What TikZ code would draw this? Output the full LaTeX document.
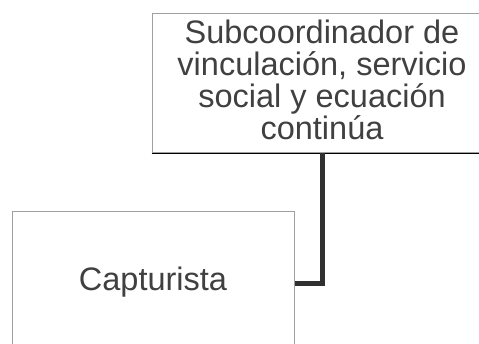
\documentclass[tikz,border=0pt]{standalone}
\usepackage{fontspec}
\setmainfont{Liberation Sans}
\definecolor{txt}{HTML}{404040}
\definecolor{edge}{HTML}{A0A0A0}
\definecolor{shade}{HTML}{808080}
\definecolor{conncol}{HTML}{303030}
\begin{document}
\begin{tikzpicture}[x=1pt,y=-1pt,
  orgbox/.style={draw=edge, line width=1pt, fill=white, inner sep=0pt},
  lbl/.style={text=txt, align=center, font=\fontsize{32.5}{31.8}\selectfont, inner sep=0pt, anchor=base},
  conn/.style={draw=conncol, line width=5pt}]
\useasboundingbox (0,0) rectangle (479,343);
\clip (0,0) rectangle (479,343);
\node[orgbox, minimum width=340pt, minimum height=139pt] (sub) at (322,82.5) {};
\node[lbl] (subtext) at (322,139)
  {Subcoordinador de\\vinculación, servicio\\social y ecuación\\continúa};
\draw[shade, line width=1pt] ([yshift=-0.5pt]sub.south west) -- ([yshift=-0.5pt]sub.south east);
\node[orgbox, minimum width=282pt, minimum height=144pt] (cap) at (153,283) {};
\node[lbl] (captext) at (153,290) {Capturista};
\draw[conn] (sub.south) |- (cap.east);
\end{tikzpicture}
\end{document}
